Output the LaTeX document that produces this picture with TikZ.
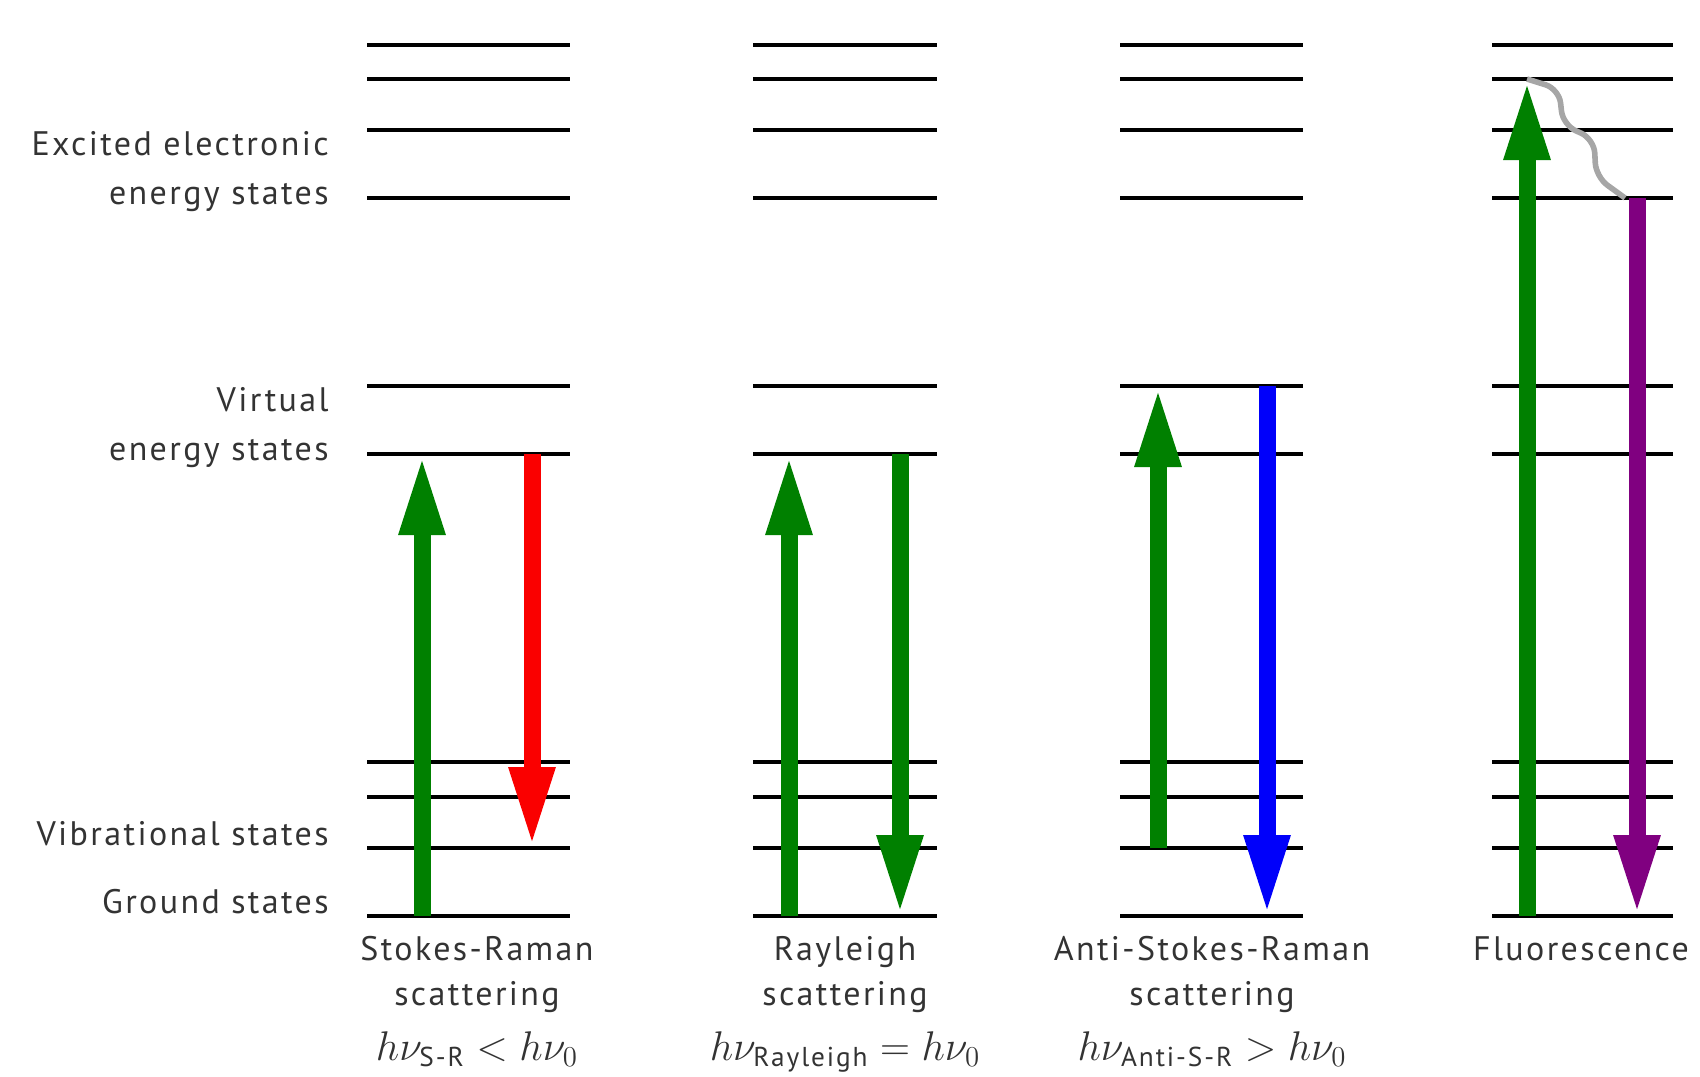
\documentclass[tikz,border=0pt]{standalone}
\usepackage{amsmath}
\usepackage{fontspec}
\setmainfont{PT Sans}[LetterSpace=7]
\usepackage{tikz}
\usetikzlibrary{arrows.meta}

\definecolor{exgreen}{RGB}{0,128,0}
\definecolor{stred}{RGB}{250,0,0}
\definecolor{asblue}{RGB}{0,0,250}
\definecolor{flpurple}{RGB}{128,0,128}

\newcommand{\photonrel}[1]{{\fontsize{19.5}{24}\selectfont $#1$}}

\begin{document}
\begin{tikzpicture}[x=0.5pt, y=-0.5pt,
  level/.style={line width=2.2pt},
  photon/.style={line width=8.5pt, -{Triangle[width=21pt,length=40pt]}, shorten >=0.5pt},
  lab/.style={font=\fontsize{17}{24.5}\selectfont, text=black!80, inner sep=0pt},
  schemecap/.style={font=\fontsize{17}{22.5}\selectfont, text=black!80, inner sep=0pt},
  wave/.style={draw=gray!70, line width=2.8pt, rounded corners=7pt}]

\useasboundingbox (0,0) rectangle (1700,1076);

% energy levels of the four schemes
\foreach \l/\r in {367/570, 753/937, 1120/1303, 1492/1673}
  \foreach \y in {45,79,130,198,386,454,762,797,848,916}
    \draw[level] (\l,\y) -- (\r,\y);

% labels on the left
\node[lab, anchor=east, align=right] (exc) at (329,172) {Excited electronic\\energy states};
\node[lab, anchor=east, align=right] (virt) at (329,428) {Virtual\\energy states};
\node[lab, anchor=east] (vib) at (329,834) {Vibrational states};
\node[lab, anchor=east] (gnd) at (329,902) {Ground states};

% end points of the transitions
\coordinate (sr-g) at (422,916);
\coordinate (sr-v) at (422,454);
\coordinate (sr-a) at (532,454);
\coordinate (sr-b) at (532,848);
\coordinate (ry-g) at (789,916);
\coordinate (ry-v) at (789,454);
\coordinate (ry-a) at (900,454);
\coordinate (ry-b) at (900,916);
\coordinate (as-g) at (1158,848);
\coordinate (as-v) at (1158,386);
\coordinate (as-a) at (1267,386);
\coordinate (as-b) at (1267,916);
\coordinate (fl-g) at (1527,916);
\coordinate (fl-e) at (1527,79);
\coordinate (fl-a) at (1637,198);
\coordinate (fl-b) at (1637,916);
\coordinate (fl-w) at (1625,198);

\path
(sr-g) edge [photon, exgreen] (sr-v)
(sr-a) edge [photon, stred] (sr-b)

(ry-g) edge [photon, exgreen] (ry-v)
(ry-a) edge [photon, exgreen] (ry-b)

(as-g) edge [photon, exgreen] (as-v)
(as-a) edge [photon, asblue] (as-b)

(fl-g) edge [photon, exgreen] (fl-e)
(fl-a) edge [photon, flpurple] (fl-b);

% radiationless relaxation
\draw[wave] (fl-e) -- ++(32,10) -- ++(4,36) -- ++(31,14) -- ++(2,38) -- (fl-w);

% captions below
\node[schemecap, anchor=north, align=center] (sr) at (477,936)
  {Stokes-Raman\\scattering\\[5pt]\photonrel{h\nu_{\text{S-R}} < h\nu_0}};
\node[schemecap, anchor=north, align=center] (ry) at (845,936)
  {Rayleigh\\scattering\\[5pt]\photonrel{h\nu_{\text{Rayleigh}} = h\nu_0}};
\node[schemecap, anchor=north, align=center] (as) at (1212,936)
  {Anti-Stokes-Raman\\scattering\\[5pt]\photonrel{h\nu_{\text{Anti-S-R}} > h\nu_0}};
\node[schemecap, anchor=north] (fl) at (1581,936) {Fluorescence};
\end{tikzpicture}
\end{document}
